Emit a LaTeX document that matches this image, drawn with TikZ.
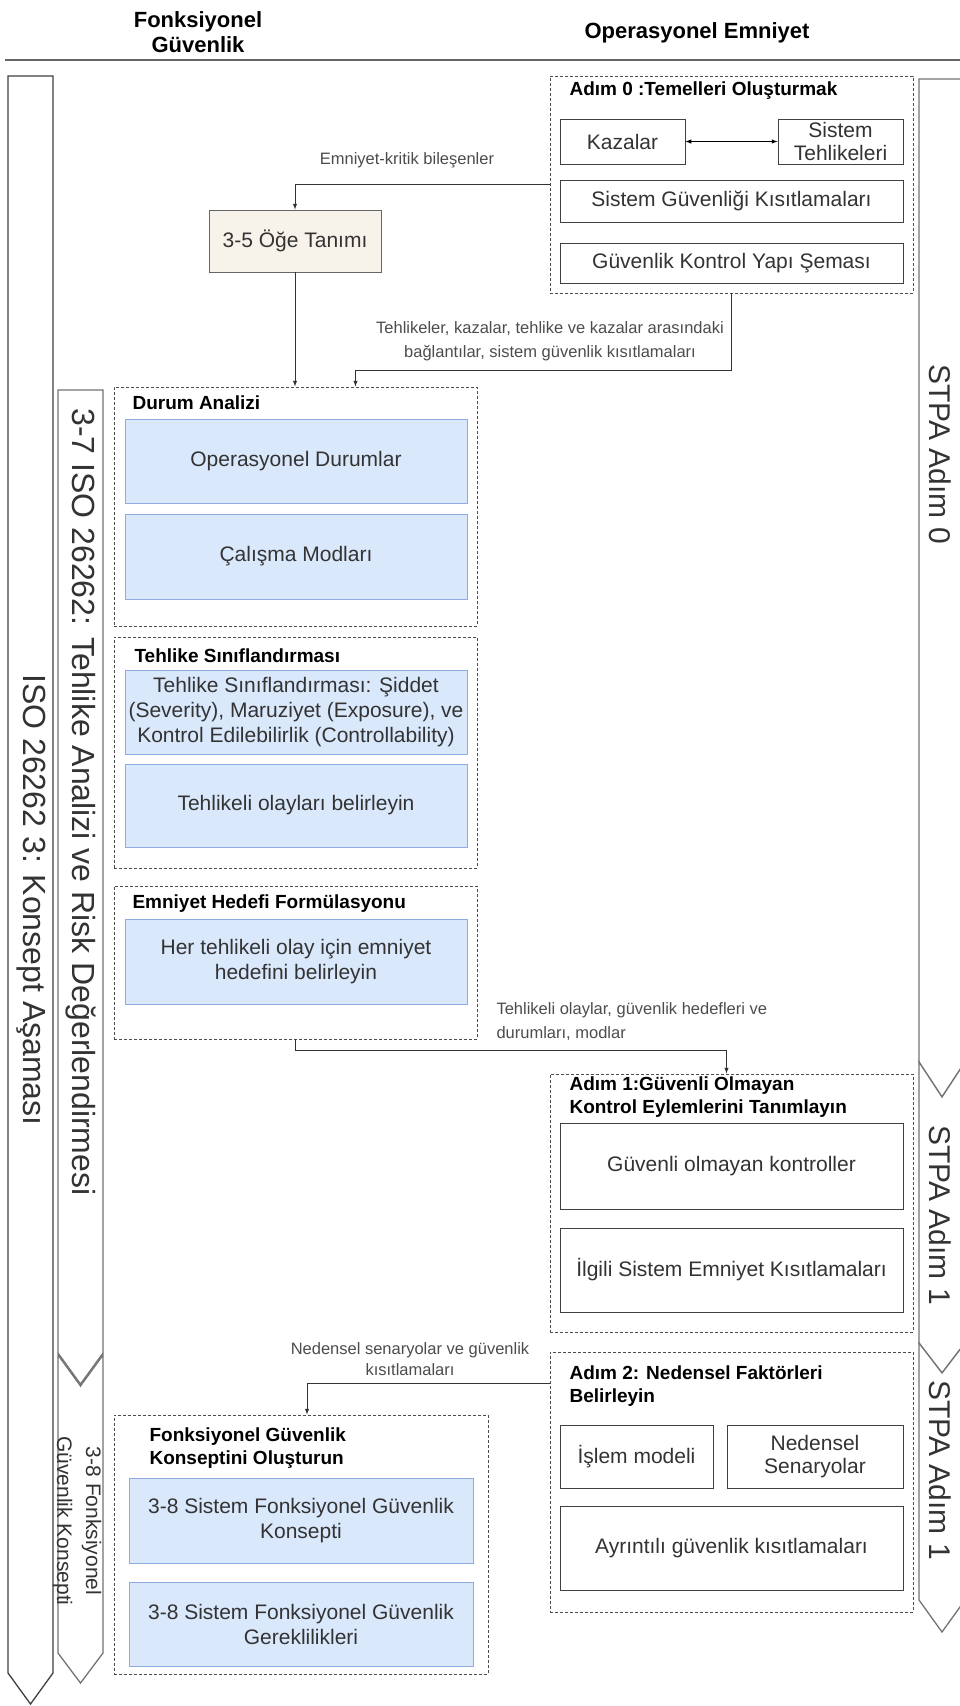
\documentclass[tikz,border=0pt]{standalone}
\usepackage{fontspec}
\setmainfont{Liberation Sans}
\usetikzlibrary{arrows, shapes, positioning}

\definecolor{bluefill}{HTML}{DAE8FC}
\definecolor{blueedge}{HTML}{8FAADC}
\definecolor{itemfill}{HTML}{F7F3EA}
\definecolor{txtgray}{HTML}{333333}

\tikzset{
  box/.style={draw=black!75, fill=white, line width=0.9pt, align=center, text=txtgray, inner sep=2pt, font=\fontsize{21}{25}\selectfont},
  bluebox/.style={box, draw=blueedge, fill=bluefill, minimum width=342pt},
  group/.style={draw=black!70, dash pattern=on 3pt off 2pt, line width=0.9pt, inner sep=0pt},
  grouptitle/.style={anchor=west, align=left, font=\bfseries\fontsize{19}{23}\selectfont},
  lbl/.style={text=black!70, align=center, font=\fontsize{16.5}{24}\selectfont},
  flow/.style={-latex, line width=1pt, draw=black!80},
  phase/.style={draw=black!55, line width=1.3pt, fill=white},
  vlabel/.style={rotate=-90, text=txtgray, font=\fontsize{30}{34}\selectfont},
  head/.style={align=center, font=\bfseries\fontsize{22}{25}\selectfont}
}

\begin{document}
\begin{tikzpicture}[x=1pt, y=-1pt]
        \useasboundingbox (0,0) rectangle (960,1706);

        \node[head] (hfunc) at (198,32) {Fonksiyonel\\Güvenlik};
        \node[head] (hops) at (697,33) {Operasyonel Emniyet};
        \draw[black!60, line width=1.5pt] (5,60) -- (960,60);

        \draw[phase, draw=black!75] (8,76) -- (53,76) -- (53,1673) -- (30.5,1704) -- (8,1673) -- cycle;
        \draw[phase] (58,390) -- (103,390) -- (103,1353) -- (80.5,1384) -- (58,1353) -- cycle;
        \draw[phase] (58,1355) -- (80.5,1386) -- (103,1355) -- (103,1653) -- (80.5,1683) -- (58,1653) -- cycle;
        \draw[phase] (919,79) -- (965,79) -- (965,1062) -- (942,1097) -- (919,1062) -- cycle;
        \draw[phase] (919,1062) -- (942,1097) -- (965,1062) -- (965,1343) -- (942,1373) -- (919,1343) -- cycle;
        \draw[phase] (919,1343) -- (942,1373) -- (965,1343) -- (965,1600) -- (942,1632) -- (919,1600) -- cycle;

        \node[vlabel, font=\fontsize{32}{34}\selectfont] (isolbl) at (31,900) {ISO 26262 3: Konsept Aşaması};
        \node[vlabel, font=\fontsize{32}{34}\selectfont] (hazlbl) at (81,802) {3-7 ISO 26262: Tehlike Analizi ve Risk Değerlendirmesi};
        \node[vlabel, align=center, font=\fontsize{21}{29}\selectfont] (fsclbl) at (77,1521) {3-8 Fonksiyonel\\Güvenlik Konsepti};
        \node[vlabel] (stpa0) at (940,454) {STPA Adım 0};
        \node[vlabel] (stpa1) at (940,1215) {STPA Adım 1};
        \node[vlabel] (stpa2) at (940,1470) {STPA Adım 1};

        \node[group, minimum width=363pt, minimum height=217pt] (step0) at (731.5,184.5) {};
        \node[grouptitle] (step0t) at (566,91) {Adım 0 :Temelleri Oluşturmak};
        \node[box, minimum width=125pt, minimum height=45pt] (kaza) at (622.5,141.5) {Kazalar};
        \node[box, minimum width=125pt, minimum height=45pt, inner sep=0pt, font=\fontsize{21}{23}\selectfont] (tehl) at (840.5,141.5) {Sistem\\Tehlikeleri};
        \node[box, minimum width=343pt, minimum height=42pt] (sgk) at (731.5,201) {Sistem Güvenliği Kısıtlamaları};
        \node[box, minimum width=343pt, minimum height=40pt] (gky) at (731.5,263) {Güvenlik Kontrol Yapı Şeması};

        \node[box, fill=itemfill, draw=black!60, minimum width=172pt, minimum height=62pt] (oge) at (295,241) {3-5 Öğe Tanımı};

        \node[group, minimum width=363pt, minimum height=239pt] (durum) at (295.5,506.5) {};
        \node[grouptitle] (durumt) at (129,403) {Durum Analizi};
        \node[bluebox, minimum height=84pt] (opdur) at (296,461) {Operasyonel Durumlar};
        \node[bluebox, minimum height=85pt] (calis) at (296,556.5) {Çalışma Modları};

        \node[group, minimum width=363pt, minimum height=231pt] (tehsin) at (295.5,752.5) {};
        \node[grouptitle] (tehsint) at (131,656) {Tehlike Sınıflandırması};
        \node[bluebox, minimum height=84pt] (sidd) at (296,712) {Tehlike Sınıflandırması: Şiddet\\(Severity), Maruziyet (Exposure), ve\\Kontrol Edilebilirlik (Controllability)};
        \node[bluebox, minimum height=83pt] (tolay) at (296,805.5) {Tehlikeli olayları belirleyin};

        \node[group, minimum width=363pt, minimum height=153pt] (hedef) at (295.5,962.5) {};
        \node[grouptitle] (hedeft) at (129,904) {Emniyet Hedefi Formülasyonu};
        \node[bluebox, minimum height=85pt] (hedefb) at (296,961.5) {Her tehlikeli olay için emniyet\\hedefini belirleyin};

        \node[group, minimum width=363pt, minimum height=258pt] (adim1) at (731.5,1203) {};
        \node[grouptitle] (adim1t) at (566,1097) {Adım 1:Güvenli Olmayan\\Kontrol Eylemlerini Tanımlayın};
        \node[box, minimum width=343pt, minimum height=86pt] (guvsiz) at (731.5,1166) {Güvenli olmayan kontroller};
        \node[box, minimum width=343pt, minimum height=84pt] (ilgili) at (731.5,1270) {İlgili Sistem Emniyet Kısıtlamaları};

        \node[group, minimum width=363pt, minimum height=260pt] (adim2) at (731.5,1482) {};
        \node[grouptitle] (adim2t) at (566,1386) {Adım 2: Nedensel Faktörleri\\Belirleyin};
        \node[box, minimum width=153pt, minimum height=63pt] (islem) at (636.5,1456.5) {İşlem modeli};
        \node[box, minimum width=176pt, minimum height=63pt, inner sep=0pt, font=\fontsize{21}{23}\selectfont] (neden) at (815,1456.5) {Nedensel\\Senaryolar};
        \node[box, minimum width=343pt, minimum height=84pt] (ayrin) at (731.5,1548) {Ayrıntılı güvenlik kısıtlamaları};

        \node[group, minimum width=374pt, minimum height=259pt] (fgk) at (301,1544.5) {};
        \node[grouptitle] (fgkt) at (146,1448) {Fonksiyonel Güvenlik\\Konseptini Oluşturun};
        \node[bluebox, minimum width=344pt, minimum height=85pt] (fgk1) at (301,1520.5) {3-8 Sistem Fonksiyonel Güvenlik\\Konsepti};
        \node[bluebox, minimum width=344pt, minimum height=84pt] (fgk2) at (301,1624) {3-8 Sistem Fonksiyonel Güvenlik\\Gereklilikleri};

        \node[lbl] (lblhaz) at (550,341) {Tehlikeler, kazalar, tehlike ve kazalar arasındaki\\bağlantılar, sistem güvenlik kısıtlamaları};
        \node[lbl, anchor=west, align=left] (lblolay) at (493,1022) {Tehlikeli olaylar, güvenlik hedefleri ve\\durumları, modlar};
        \node[lbl, font=\fontsize{16.5}{21}\selectfont] (lblned) at (410,1359.5) {Nedensel senaryolar ve güvenlik\\kısıtlamaları};

        \draw[latex-latex, line width=1pt] (kaza) -- (tehl);
        \draw[flow] (step0.west) -| node[lbl, pos=0.28, above=13pt] {Emniyet-kritik bileşenler} (oge.north);
        \draw[flow] (oge.south) -- (oge.south |- durum.north);
        \draw[flow] (step0.south) -- ++(0,77) -| ([xshift=60pt]durum.north);
        \draw[flow] (hedef.south) -- ++(0,11) -| ([xshift=-5pt]adim1.north);
        \draw[flow] ([yshift=99pt]adim2.west) -| ([xshift=6pt]fgk.north);
\end{tikzpicture}
\end{document}
